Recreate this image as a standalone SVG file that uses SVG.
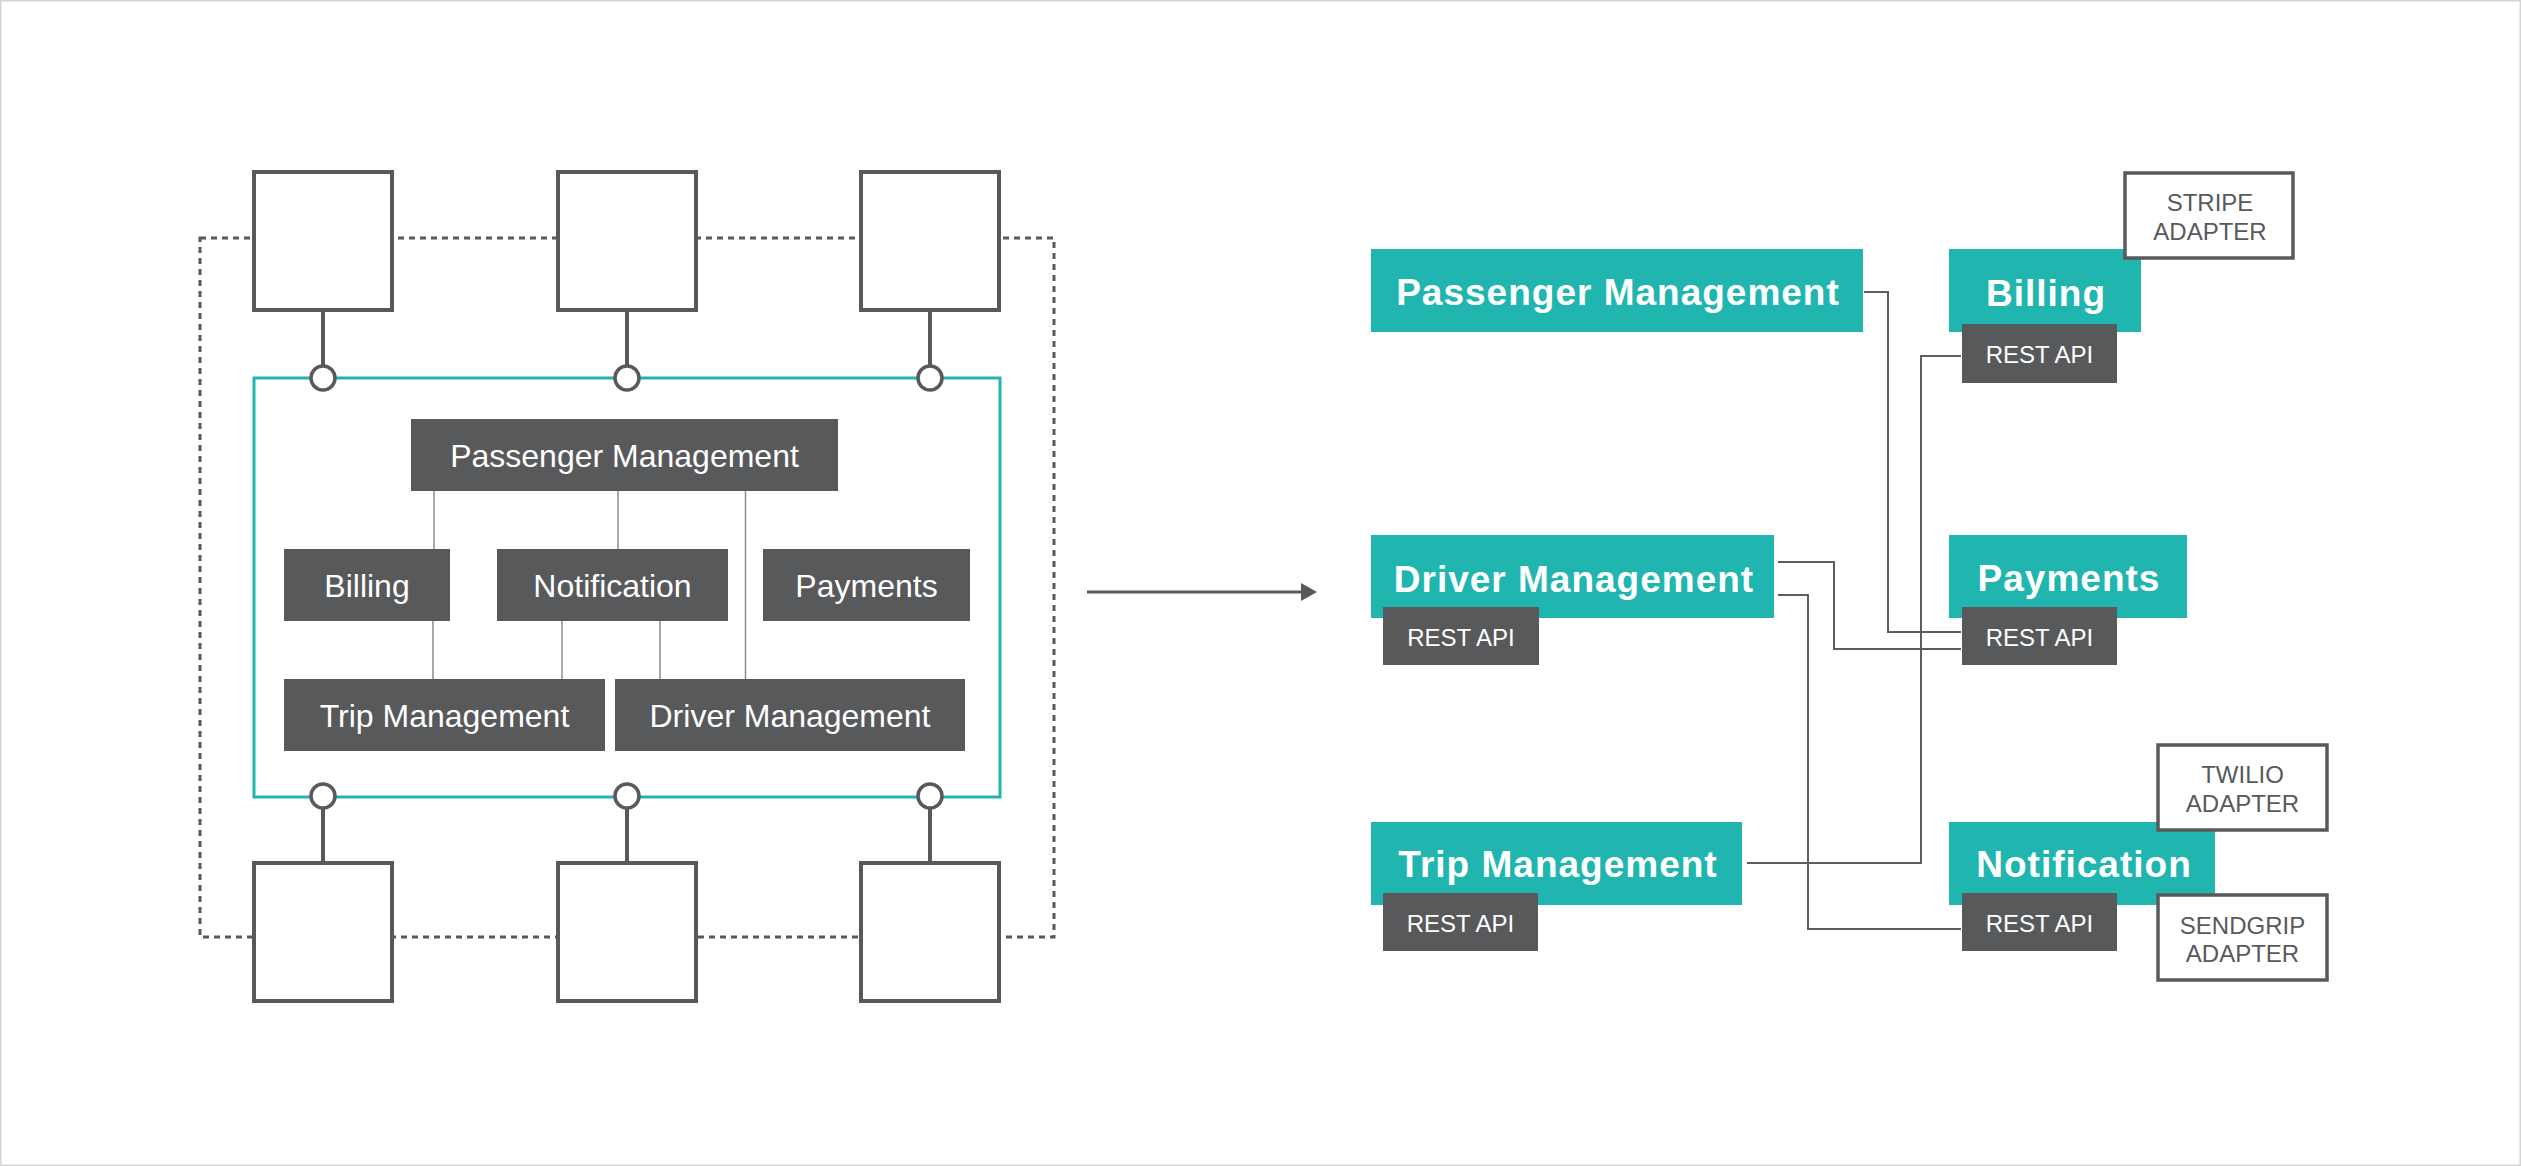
<svg xmlns="http://www.w3.org/2000/svg" width="2521" height="1166" viewBox="0 0 2521 1166">
<style>
.bg{fill:#ffffff;stroke:#d4d4d4;stroke-width:1.5}
.port{fill:#ffffff;stroke:#58595b;stroke-width:4}
.dot{fill:none;stroke:#58595b;stroke-width:3;stroke-dasharray:6 5}
.hex{fill:none;stroke:#21b5af;stroke-width:3}
.stem{stroke:#58595b;stroke-width:4;fill:none}
.ring{fill:#ffffff;stroke:#58595b;stroke-width:3.5}
.dk{fill:#58595b}
.tl{fill:#21b5af}
.adp{fill:#ffffff;stroke:#58595b;stroke-width:3.5}
.thin{stroke:#8c8c8e;stroke-width:1.5;fill:none}
.conn{stroke:#5c5d5f;stroke-width:2;fill:none}
.lt{font-family:"Liberation Sans",Arial,sans-serif;font-size:32px;fill:#ffffff;text-anchor:middle}
.bt{font-family:"Liberation Sans",Arial,sans-serif;font-size:37px;font-weight:bold;fill:#ffffff;text-anchor:middle;letter-spacing:1px}
.api{font-family:"Liberation Sans",Arial,sans-serif;font-size:24px;fill:#ffffff;text-anchor:middle}
.at{font-family:"Liberation Sans",Arial,sans-serif;font-size:24px;fill:#58595b;text-anchor:middle}
</style>
<rect class="bg" x="0.75" y="0.75" width="2519.5" height="1164.5"/>

<g id="hexagon-left">
  <rect class="dot" x="200" y="238" width="854" height="699"/>
  <line class="stem" x1="323" y1="310" x2="323" y2="366"/>
  <line class="stem" x1="627" y1="310" x2="627" y2="366"/>
  <line class="stem" x1="930" y1="310" x2="930" y2="366"/>
  <line class="stem" x1="323" y1="808" x2="323" y2="863"/>
  <line class="stem" x1="627" y1="808" x2="627" y2="863"/>
  <line class="stem" x1="930" y1="808" x2="930" y2="863"/>
  <rect class="hex" x="254" y="378" width="746" height="419"/>
  <circle class="ring" cx="323" cy="378" r="12"/>
  <circle class="ring" cx="627" cy="378" r="12"/>
  <circle class="ring" cx="930" cy="378" r="12"/>
  <circle class="ring" cx="323" cy="796" r="12"/>
  <circle class="ring" cx="627" cy="796" r="12"/>
  <circle class="ring" cx="930" cy="796" r="12"/>
</g>
<g id="port-top-1"><rect class="port" x="254" y="172" width="138" height="138"/></g>
<g id="port-top-2"><rect class="port" x="558" y="172" width="138" height="138"/></g>
<g id="port-top-3"><rect class="port" x="861" y="172" width="138" height="138"/></g>
<g id="port-bottom-1"><rect class="port" x="254" y="863" width="138" height="138"/></g>
<g id="port-bottom-2"><rect class="port" x="558" y="863" width="138" height="138"/></g>
<g id="port-bottom-3"><rect class="port" x="861" y="863" width="138" height="138"/></g>

<g id="left-connectors">
  <line class="thin" x1="434" y1="491" x2="434" y2="549"/>
  <line class="thin" x1="618" y1="491" x2="618" y2="549"/>
  <line class="thin" x1="745.5" y1="491" x2="745.5" y2="679"/>
  <line class="thin" x1="433" y1="621" x2="433" y2="679"/>
  <line class="thin" x1="562" y1="621" x2="562" y2="679"/>
  <line class="thin" x1="660" y1="621" x2="660" y2="679"/>
</g>

<g id="l-passenger"><rect class="dk" x="411" y="419" width="427" height="72"/><text class="lt" x="624.5" y="467">Passenger Management</text></g>
<g id="l-billing"><rect class="dk" x="284" y="549" width="166" height="72"/><text class="lt" x="367" y="597">Billing</text></g>
<g id="l-notification"><rect class="dk" x="497" y="549" width="231" height="72"/><text class="lt" x="612.5" y="597">Notification</text></g>
<g id="l-payments"><rect class="dk" x="763" y="549" width="207" height="72"/><text class="lt" x="866.5" y="597">Payments</text></g>
<g id="l-trip"><rect class="dk" x="284" y="679" width="321" height="72"/><text class="lt" x="444.5" y="727">Trip Management</text></g>
<g id="l-driver"><rect class="dk" x="615" y="679" width="350" height="72"/><text class="lt" x="790" y="727">Driver Management</text></g>

<g id="arrow">
  <line x1="1087" y1="592" x2="1302" y2="592" stroke="#58595b" stroke-width="3"/>
  <polygon points="1301,583 1317,592 1301,601" fill="#58595b"/>
</g>

<g id="connectors">
  <path class="conn" d="M1864 292 H1888 V632 H1961"/>
  <path class="conn" d="M1747 863 H1921 V356 H1961"/>
  <path class="conn" d="M1778 562 H1834 V649 H1961"/>
  <path class="conn" d="M1778 595 H1808 V929 H1961"/>
</g>

<g id="r-passenger"><rect class="tl" x="1371" y="249" width="492" height="83"/><text class="bt" x="1618" y="305">Passenger Management</text></g>
<g id="r-billing"><rect class="tl" x="1949" y="249" width="192" height="83"/><text class="bt" x="2046" y="306">Billing</text>
  <rect class="dk" x="1962" y="324" width="155" height="59"/><text class="api" x="2039.5" y="363">REST API</text></g>
<g id="stripe-adapter"><rect class="adp" x="2125" y="173" width="168" height="85"/><text class="at" x="2210" y="211">STRIPE</text><text class="at" x="2210" y="240">ADAPTER</text></g>
<g id="r-driver"><rect class="tl" x="1371" y="535" width="403" height="83"/><text class="bt" x="1574" y="592">Driver Management</text>
  <rect class="dk" x="1383" y="607" width="156" height="58"/><text class="api" x="1461" y="646">REST API</text></g>
<g id="r-payments"><rect class="tl" x="1949" y="535" width="238" height="83"/><text class="bt" x="2069" y="591">Payments</text>
  <rect class="dk" x="1962" y="607" width="155" height="58"/><text class="api" x="2039.5" y="646">REST API</text></g>
<g id="r-trip"><rect class="tl" x="1371" y="822" width="371" height="83"/><text class="bt" x="1558" y="877">Trip Management</text>
  <rect class="dk" x="1383" y="893" width="155" height="58"/><text class="api" x="1460.5" y="932">REST API</text></g>
<g id="r-notification"><rect class="tl" x="1949" y="822" width="266" height="83"/><text class="bt" x="2084" y="877">Notification</text>
  <rect class="dk" x="1962" y="893" width="155" height="58"/><text class="api" x="2039.5" y="932">REST API</text></g>
<g id="twilio-adapter"><rect class="adp" x="2158" y="745" width="169" height="85"/><text class="at" x="2242.5" y="783">TWILIO</text><text class="at" x="2242.5" y="812">ADAPTER</text></g>
<g id="sendgrip-adapter"><rect class="adp" x="2158" y="895" width="169" height="85"/><text class="at" x="2242.5" y="934">SENDGRIP</text><text class="at" x="2242.5" y="962">ADAPTER</text></g>
</svg>
